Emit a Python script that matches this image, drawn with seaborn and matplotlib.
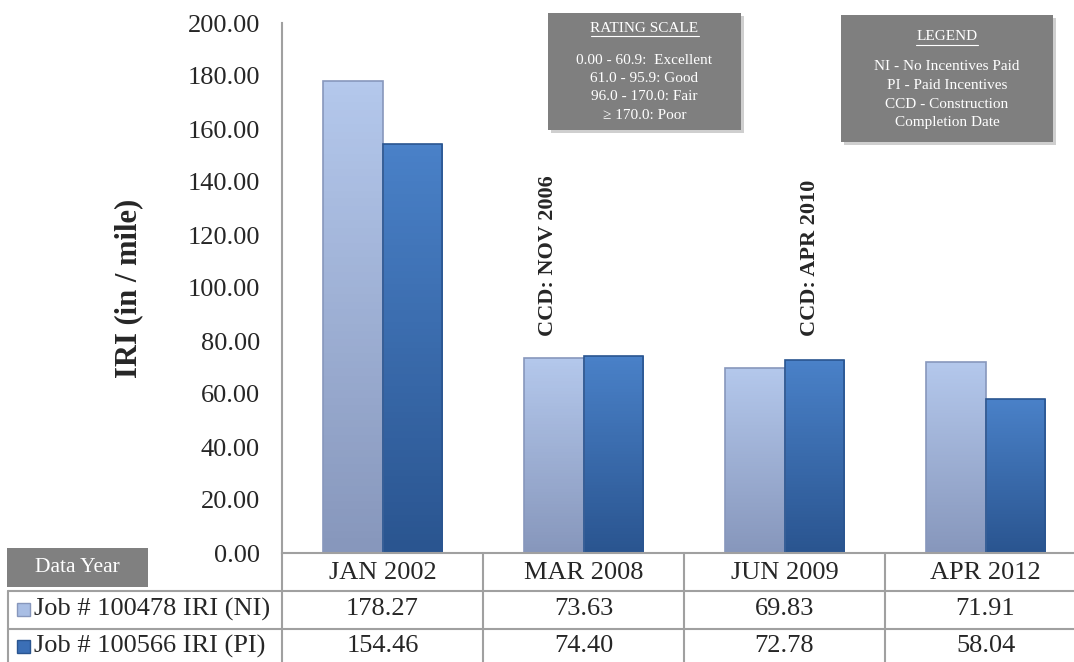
import numpy as np
import pandas as pd
import matplotlib
matplotlib.use('Agg')
import matplotlib.pyplot as plt
import matplotlib.transforms as mtrans
from matplotlib.patches import Rectangle
from matplotlib.lines import Line2D
import seaborn as sns

# data
years = ['JAN 2002', 'MAR 2008', 'JUN 2009', 'APR 2012']
series = ['Job # 100478 IRI (NI)', 'Job # 100566 IRI (PI)']
iri_ni = [178.27, 73.63, 69.83, 71.91]
iri_pi = [154.46, 74.40, 72.78, 58.04]
ccd_notes = [('CCD: NOV 2006', 1, 0), ('CCD: APR 2010', 2, 1)]  # text, year index, series index
rating_lines = ['0.00 - 60.9:  Excellent', '61.0 - 95.9: Good', '96.0 - 170.0: Fair', '\u2265 170.0: Poor']
legend_lines = ['NI - No Incentives Paid', 'PI - Paid Incentives', 'CCD - Construction', 'Completion Date']

df = pd.DataFrame({
    'Year': years * 2,
    'Series': [series[0]] * 4 + [series[1]] * 4,
    'IRI': iri_ni + iri_pi,
})

colors = ['#A9BEE4', '#3B6FB6']
grad = [('#B4C8EC', '#8797BC'), ('#4A81C8', '#2A5590')]

sns.set_style('white')
plt.rcParams['font.family'] = ['Liberation Serif', 'DejaVu Serif']

W, H = 1074, 662
fig = plt.figure(figsize=(W / 100, H / 100), dpi=100)
ax_left, ax_right, ax_top, ax_bot = 282, 1086, 23, 553
ax = fig.add_axes([ax_left / W, 1 - ax_bot / H, (ax_right - ax_left) / W, (ax_bot - ax_top) / H])

sns.barplot(data=df, x='Year', y='IRI', hue='Series', palette=colors, width=0.59,
            ax=ax, legend=False, edgecolor='none', saturation=1)

# gradient fill on bars
n = len(years)
for i, p in enumerate(ax.patches):
    s = i // n
    x0, y0 = p.get_x(), p.get_y()
    w, h = p.get_width(), p.get_height()
    c1 = np.array(matplotlib.colors.to_rgb(grad[s][0]))
    c2 = np.array(matplotlib.colors.to_rgb(grad[s][1]))
    t = np.linspace(0, 1, 64)[:, None, None]
    img = c1 * (1 - t) + c2 * t
    img = np.repeat(img, 8, axis=1)
    im = ax.imshow(img, extent=[x0, x0 + w, y0, y0 + h], aspect='auto', zorder=p.get_zorder() + 0.1)
    im.set_clip_path(p)
    ax.add_patch(Rectangle((x0, y0), w, h, fill=False, edgecolor=grad[s][1], lw=1.2,
                           zorder=p.get_zorder() + 0.2))
ax.set_xlim(-0.5, n - 0.5)
ax.set_ylim(0, 200)
ax.set_yticks(np.arange(0, 201, 20))
ax.set_yticklabels([f'{v:.2f}' for v in np.arange(0, 201, 20)], fontsize=19)
ax.tick_params(axis='y', length=0, pad=16)
ax.set_xticks([])
ax.set_xlabel('')
ax.set_ylabel('IRI (in / mile)', fontsize=22, fontweight='bold', labelpad=32)
for sp in ['top', 'right']:
    ax.spines[sp].set_visible(False)
for sp in ['left', 'bottom']:
    ax.spines[sp].set_color('#A0A0A0')
    ax.spines[sp].set_linewidth(1.5)

# CCD annotations
off = [-0.15, 0.15]
for txt, xi, si in ccd_notes:
    ax.text(xi + off[si] - 0.025, 82, txt, rotation=90, ha='center', va='bottom',
            fontsize=16, fontweight='bold')

# data table below axes
def fy(y):
    return 1 - y / H

def fx(x):
    return x / W

blend = mtrans.blended_transform_factory(ax.transData, fig.transFigure)
line_c = '#A0A0A0'
row_y = [ax_bot, 591, 629, 665]
bounds = np.arange(n + 1) - 0.5
for b in bounds:
    fig.add_artist(Line2D([b, b], [fy(row_y[0]), fy(row_y[-1])], transform=blend,
                          color=line_c, lw=1.5))
for yy in row_y[1:3]:
    fig.add_artist(Line2D([fx(8), fx(ax_right)], [fy(yy), fy(yy)], transform=fig.transFigure,
                          color=line_c, lw=1.5))
fig.add_artist(Line2D([fx(8), fx(8)], [fy(591), fy(665)], transform=fig.transFigure,
                      color=line_c, lw=1.5))

for j, yr in enumerate(years):
    fig.text(j, fy((row_y[0] + row_y[1]) / 2 + 1), yr, transform=blend, ha='center', va='center', fontsize=19)
for r, vals in enumerate([iri_ni, iri_pi]):
    yc = fy((row_y[r + 1] + row_y[r + 2]) / 2 - 1)
    for j, v in enumerate(vals):
        fig.text(j, yc, f'{v:.2f}', transform=blend, ha='center', va='center', fontsize=19)
    fig.add_artist(Rectangle((fx(17), yc - 6.5 / H), 13 / W, 13 / H, transform=fig.transFigure,
                             facecolor=colors[r], edgecolor=grad[r][1], lw=1))
    fig.text(fx(34), yc, series[r], ha='left', va='center', fontsize=19)

# Data Year label
fig.add_artist(Rectangle((fx(7), fy(587)), 141 / W, 39 / H, transform=fig.transFigure,
                         facecolor='#808080', edgecolor='none'))
fig.text(fx(77), fy(568), 'Data Year', ha='center', va='center', fontsize=15.5, color='white')

# info boxes
def info_box(x0, y0, x1, y1, title, lines, ty, ly, ul):
    fig.add_artist(Rectangle((fx(x0 + 3), fy(y1 + 3)), (x1 - x0) / W, (y1 - y0) / H,
                             transform=fig.transFigure, facecolor='#B0B0B0', edgecolor='none', alpha=0.6))
    fig.add_artist(Rectangle((fx(x0), fy(y1)), (x1 - x0) / W, (y1 - y0) / H,
                             transform=fig.transFigure, facecolor='#7F7F7F', edgecolor='none'))
    cx = (x0 + x1) / 2
    fig.text(fx(cx), fy(y0 + ty), title, ha='center', va='center', fontsize=11, color='white')
    fig.add_artist(Line2D([fx(cx - ul), fx(cx + ul)], [fy(y0 + ty + 8), fy(y0 + ty + 8)],
                          transform=fig.transFigure, color='white', lw=0.8))
    for k, ln in enumerate(lines):
        fig.text(fx(cx), fy(y0 + ly + k * 18.5), ln, ha='center', va='center', fontsize=11,
                 color='white', family=['Liberation Serif', 'DejaVu Serif'])

info_box(548, 13, 741, 130, 'RATING SCALE', rating_lines, 15, 47, 54)
info_box(841, 15, 1053, 142, 'LEGEND', legend_lines, 22, 52, 31)

fig.savefig('out.png', dpi=100)
